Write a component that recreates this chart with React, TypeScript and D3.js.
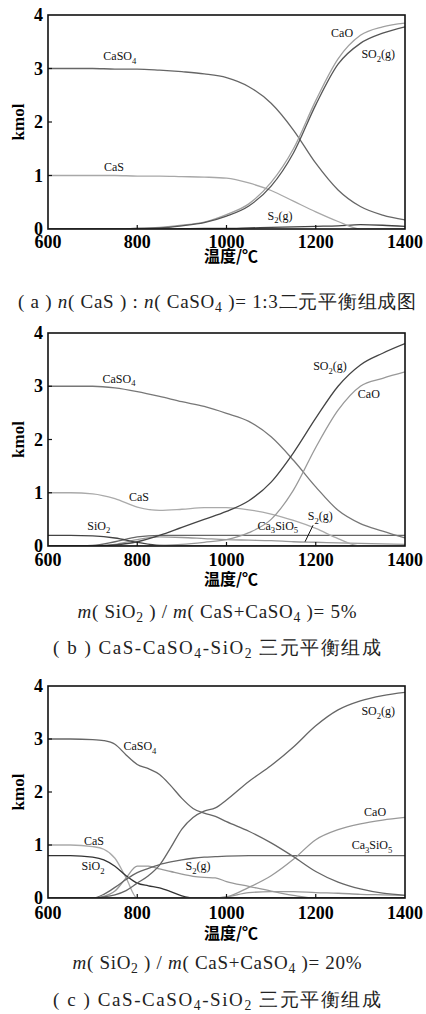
import { useEffect, useRef } from "react";
import { select, scaleLinear, line, curveMonotoneX } from "d3";

const W = 426;
const H = 1014;
const L = 48;
const R = 405;

const SERIF = "Liberation Serif";
const CJK_SANS = "Noto Sans CJK SC";

const xTicks = [600, 800, 1000, 1200, 1400];
const yTicks = [0, 1, 2, 3, 4];

// (a) CaS : CaSO4 = 1:3
const tempA = [600, 650, 700, 750, 800, 850, 900, 950, 1000, 1050, 1100, 1150, 1200, 1250, 1300, 1350, 1400];
const caso4A = [3.0, 3.0, 3.0, 2.99, 2.99, 2.97, 2.94, 2.9, 2.83, 2.66, 2.35, 1.85, 1.23, 0.73, 0.42, 0.26, 0.17];
const casA = [1.0, 1.0, 1.0, 1.0, 0.99, 0.99, 0.98, 0.97, 0.95, 0.86, 0.72, 0.52, 0.32, 0.14, 0.0, 0.0, 0.0];
const caoA = [0, 0, 0, 0, 0.01, 0.03, 0.07, 0.13, 0.27, 0.47, 0.87, 1.5, 2.4, 3.18, 3.62, 3.78, 3.85];
const so2A = [0, 0, 0, 0, 0.01, 0.02, 0.06, 0.12, 0.24, 0.43, 0.8, 1.42, 2.32, 3.08, 3.47, 3.66, 3.78];
const s2A = [0, 0, 0, 0, 0, 0, 0.005, 0.01, 0.01, 0.02, 0.03, 0.04, 0.05, 0.06, 0.08, 0.07, 0.05];

// (b) SiO2 5%
const tempB = [600, 650, 700, 750, 800, 850, 900, 950, 1000, 1050, 1100, 1150, 1200, 1250, 1300, 1350, 1400];
const caso4B = [3.0, 3.0, 3.0, 2.97, 2.9, 2.81, 2.71, 2.62, 2.49, 2.34, 2.05, 1.61, 1.11, 0.67, 0.42, 0.28, 0.15];
const casB = [1.0, 1.0, 0.98, 0.89, 0.73, 0.67, 0.69, 0.72, 0.72, 0.68, 0.6, 0.48, 0.33, 0.14, 0.0, 0.0, 0.0];
const so2B = [0, 0, 0, 0.02, 0.08, 0.2, 0.35, 0.5, 0.65, 0.85, 1.2, 1.75, 2.4, 3.0, 3.4, 3.62, 3.8];
const caoB = [0, 0, 0, 0, 0, 0.01, 0.03, 0.07, 0.12, 0.25, 0.5, 1.05, 1.85, 2.55, 3.0, 3.15, 3.27];
const sio2B = [0.2, 0.2, 0.19, 0.15, 0.07, 0.01, 0, 0, 0, 0, 0, 0, 0, 0, 0, 0, 0];
const ca3sio5B = [0, 0, 0.01, 0.08, 0.17, 0.2, 0.2, 0.2, 0.2, 0.2, 0.2, 0.2, 0.2, 0.2, 0.2, 0.2, 0.2];
const s2B = [0, 0, 0, 0.03, 0.12, 0.17, 0.16, 0.14, 0.12, 0.11, 0.1, 0.08, 0.07, 0.06, 0.05, 0.04, 0.03];

// (c) SiO2 20%
const tempC = [600, 650, 700, 725, 750, 775, 800, 825, 850, 875, 900, 925, 950, 975, 1000, 1050, 1100, 1150, 1200, 1250, 1300, 1350, 1400];
const caso4C = [3.0, 3.0, 2.99, 2.97, 2.9, 2.7, 2.52, 2.44, 2.33, 2.12, 1.88, 1.69, 1.6, 1.54, 1.44, 1.26, 1.04, 0.78, 0.5, 0.3, 0.17, 0.09, 0.05];
const casC = [1.0, 1.0, 0.97, 0.92, 0.75, 0.38, 0, 0, 0, 0, 0, 0, 0, 0, 0, 0, 0, 0, 0, 0, 0, 0, 0];
const sio2C = [0.8, 0.8, 0.77, 0.72, 0.6, 0.42, 0.28, 0.23, 0.19, 0.12, 0.04, 0, 0, 0, 0, 0, 0, 0, 0, 0, 0, 0, 0];
const ca3sio5C = [0, 0, 0, 0.07, 0.2, 0.35, 0.48, 0.56, 0.63, 0.68, 0.72, 0.75, 0.77, 0.78, 0.79, 0.8, 0.8, 0.8, 0.8, 0.8, 0.8, 0.8, 0.8];
const s2C = [0, 0, 0, 0.03, 0.13, 0.38, 0.6, 0.6, 0.55, 0.5, 0.45, 0.41, 0.39, 0.38, 0.31, 0.22, 0.13, 0.05, 0, 0, 0, 0, 0];
const so2C = [0, 0, 0, 0.02, 0.06, 0.14, 0.28, 0.42, 0.62, 0.95, 1.3, 1.52, 1.64, 1.7, 1.85, 2.2, 2.5, 2.85, 3.25, 3.55, 3.72, 3.82, 3.88];
const caoC = [0, 0, 0, 0, 0, 0, 0, 0, 0, 0, 0, 0, 0, 0, 0.02, 0.2, 0.42, 0.73, 1.1, 1.29, 1.4, 1.47, 1.52];
const otherC = [0, 0, 0, 0, 0, 0, 0, 0, 0, 0, 0, 0, 0, 0, 0.02, 0.1, 0.12, 0.12, 0.1, 0.09, 0.07, 0.06, 0.05];

const captionsA = [{ text: "( a ) *n*( CaS ) : *n*( CaSO_{4} )= 1:3二元平衡组成图", cy: 302, w: 398 }];
const captionsB = [
  { text: "*m*( SiO_{2} ) / *m*( CaS+CaSO_{4} )= 5%", cy: 612, w: 279 },
  { text: "( b ) CaS-CaSO_{4}-SiO_{2} 三元平衡组成", cy: 648, w: 328 },
];
const captionsC = [
  { text: "*m*( SiO_{2} ) / *m*( CaS+CaSO_{4} )= 20%", cy: 963, w: 289 },
  { text: "( c ) CaS-CaSO_{4}-SiO_{2} 三元平衡组成", cy: 1000, w: 328 },
];

const panels = [
  {
    top: 15,
    bottom: 229,
    tickGap: 13,
    labGap: 27,
    temps: tempA,
    series: [
      { v: s2A, c: "#444" },
      { v: casA, c: "#a8a8a8" },
      { v: caso4A, c: "#666" },
      { v: caoA, c: "#a0a0a0" },
      { v: so2A, c: "#555" },
    ],
    labels: [
      { s: "CaSO_{4}", t: 761, v: 3.21 },
      { s: "CaS", t: 748, v: 1.14 },
      { s: "CaO", t: 1259, v: 3.64 },
      { s: "SO_{2}(g)", t: 1340, v: 3.25 },
      { s: "S_{2}(g)", t: 1120, v: 0.23 },
    ],
    pointer: null as null | number[],
    captions: captionsA,
  },
  {
    top: 333,
    bottom: 546,
    tickGap: 14,
    labGap: 33,
    temps: tempB,
    series: [
      { v: s2B, c: "#999" },
      { v: ca3sio5B, c: "#666" },
      { v: sio2B, c: "#444" },
      { v: casB, c: "#aaa" },
      { v: caso4B, c: "#777" },
      { v: caoB, c: "#999" },
      { v: so2B, c: "#444" },
    ],
    labels: [
      { s: "CaSO_{4}", t: 759, v: 3.12 },
      { s: "CaS", t: 804, v: 0.9 },
      { s: "SiO_{2}", t: 714, v: 0.36 },
      { s: "SO_{2}(g)", t: 1232, v: 3.36 },
      { s: "CaO", t: 1319, v: 2.84 },
      { s: "Ca_{3}SiO_{5}", t: 1115, v: 0.36 },
      { s: "S_{2}(g)", t: 1210, v: 0.54 },
    ],
    pointer: [1194, 0.39, 1176, 0.08],
    captions: captionsB,
  },
  {
    top: 686,
    bottom: 898,
    tickGap: 15,
    labGap: 35,
    temps: tempC,
    series: [
      { v: otherC, c: "#999" },
      { v: casC, c: "#aaa" },
      { v: s2C, c: "#999" },
      { v: sio2C, c: "#333" },
      { v: ca3sio5C, c: "#666" },
      { v: caoC, c: "#999" },
      { v: caso4C, c: "#666" },
      { v: so2C, c: "#666" },
    ],
    labels: [
      { s: "CaSO_{4}", t: 806, v: 2.85 },
      { s: "SO_{2}(g)", t: 1340, v: 3.51 },
      { s: "CaO", t: 1333, v: 1.6 },
      { s: "Ca_{3}SiO_{5}", t: 1326, v: 0.98 },
      { s: "CaS", t: 703, v: 1.06 },
      { s: "SiO_{2}", t: 701, v: 0.58 },
      { s: "S_{2}(g)", t: 936, v: 0.58 },
    ],
    pointer: null,
    captions: captionsC,
  },
];

// "_{x}" -> subscript, "*x*" -> italic
const rich = (txt: any, str: string, size: number, drop = 0.3) => {
  const parts = str.split(/(_\{[^}]*\}|\*[^*]*\*)/).filter((s) => s);
  let down = false;
  parts.forEach((p) => {
    const ts = txt.append("tspan");
    if (p.startsWith("_{")) {
      ts.text(p.slice(2, -1))
        .attr("font-size", size * 0.72)
        .attr("dy", down ? 0 : size * drop);
      down = true;
    } else {
      if (p.startsWith("*")) ts.text(p.slice(1, -1)).attr("font-style", "italic");
      else ts.text(p);
      if (down) ts.attr("dy", -size * drop);
      down = false;
    }
  });
};

const drawPanel = (svg: any, p: (typeof panels)[number], i: number) => {
  const x = scaleLinear().domain([600, 1400]).range([L, R]);
  const y = scaleLinear().domain([0, 4]).range([p.bottom, p.top]);
  const g = svg.append("g");

  g.append("clipPath")
    .attr("id", `clip${i}`)
    .append("rect")
    .attr("x", L)
    .attr("y", p.top)
    .attr("width", R - L)
    .attr("height", p.bottom - p.top);

  const path = line<number>()
    .x((_, j) => x(p.temps[j]))
    .y((d) => y(d))
    .curve(curveMonotoneX);

  g.append("g")
    .attr("clip-path", `url(#clip${i})`)
    .selectAll("path")
    .data(p.series)
    .join("path")
    .attr("d", (d) => path(d.v))
    .attr("fill", "none")
    .attr("stroke", (d) => d.c)
    .attr("stroke-width", 1.3);

  // frame + inward ticks
  g.append("rect")
    .attr("x", L)
    .attr("y", p.top)
    .attr("width", R - L)
    .attr("height", p.bottom - p.top)
    .attr("fill", "none")
    .attr("stroke", "#111")
    .attr("stroke-width", 1.6);

  g.selectAll(".xt")
    .data(xTicks.slice(1, -1))
    .join("line")
    .attr("x1", (d) => x(d))
    .attr("x2", (d) => x(d))
    .attr("y1", p.bottom)
    .attr("y2", p.bottom - 4)
    .attr("stroke", "#111")
    .attr("stroke-width", 1.2);

  g.selectAll(".yt")
    .data(yTicks.slice(1, -1))
    .join("line")
    .attr("x1", L)
    .attr("x2", L + 4)
    .attr("y1", (d) => y(d))
    .attr("y2", (d) => y(d))
    .attr("stroke", "#111")
    .attr("stroke-width", 1.2);

  g.selectAll(".xl")
    .data(xTicks)
    .join("text")
    .attr("x", (d) => x(d))
    .attr("y", p.bottom + p.tickGap + 6)
    .attr("text-anchor", "middle")
    .attr("font-weight", 700)
    .attr("font-size", 18)
    .text((d) => d);

  g.selectAll(".yl")
    .data(yTicks)
    .join("text")
    .attr("x", L - 5)
    .attr("y", (d) => y(d) + 6)
    .attr("text-anchor", "end")
    .attr("font-weight", 700)
    .attr("font-size", 18)
    .text((d) => d);

  g.append("text")
    .attr("transform", `translate(24,${(p.top + p.bottom) / 2}) rotate(-90)`)
    .attr("text-anchor", "middle")
    .attr("font-weight", 700)
    .attr("font-size", 17)
    .text("kmol");

  g.append("text")
    .attr("x", 231)
    .attr("y", p.bottom + p.labGap + 6)
    .attr("text-anchor", "middle")
    .attr("font-family", CJK_SANS)
    .attr("font-weight", 700)
    .attr("font-size", 16)
    .text("温度/℃");

  p.labels.forEach((l) => {
    const t = g
      .append("text")
      .attr("x", x(l.t))
      .attr("y", y(l.v) + 3)
      .attr("text-anchor", "middle")
      .attr("font-size", 12)
      .attr("fill", "#111");
    rich(t, l.s, 12);
  });

  if (p.pointer) {
    g.append("line")
      .attr("x1", x(p.pointer[0]))
      .attr("y1", y(p.pointer[1]))
      .attr("x2", x(p.pointer[2]))
      .attr("y2", y(p.pointer[3]))
      .attr("stroke", "#111")
      .attr("stroke-width", 1);
  }

  p.captions.forEach((c) => {
    const t = g
      .append("text")
      .attr("x", 217)
      .attr("y", c.cy + 6)
      .attr("text-anchor", "middle")
      .attr("font-size", 19)
      .attr("fill", "#222")
      .attr("textLength", c.w)
      .attr("lengthAdjust", "spacing");
    rich(t, c.text, 19, 0.22);
  });
};

export default function App() {
  const ref = useRef<SVGSVGElement>(null);

  useEffect(() => {
    if (!ref.current) return;
    const svg = select(ref.current);
    svg.selectAll("*").remove();
    svg.append("rect").attr("width", W).attr("height", H).attr("fill", "#fff");
    panels.forEach((p, i) => drawPanel(svg, p, i));
  }, []);

  return (
    <svg
      ref={ref}
      width={W}
      height={H}
      fontFamily={SERIF}
      style={{ position: "absolute", left: 0, top: 0, display: "block", fontFamily: SERIF }}
    />
  );
}
